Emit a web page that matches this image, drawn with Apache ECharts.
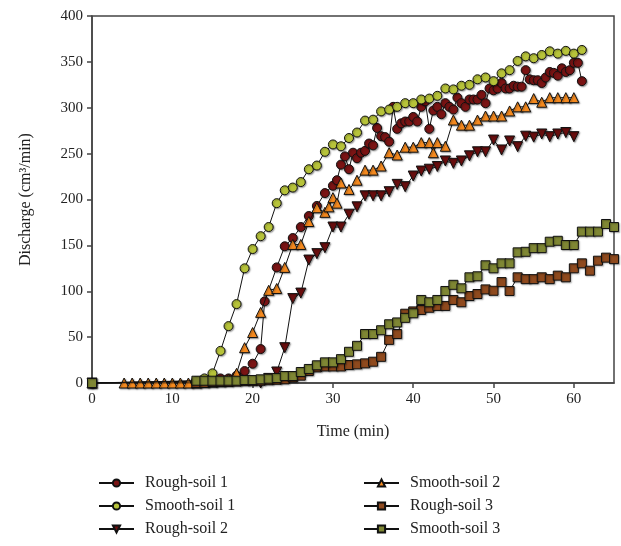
<!DOCTYPE html>
<html>
<head>
<meta charset="utf-8">
<script src="https://cdn.jsdelivr.net/npm/echarts@6/dist/echarts.min.js"></script>
<style>html,body{margin:0;padding:0;background:#fff;}#c{width:621px;height:546px;}</style>
</head>
<body>
<div id="c"></div>
<script>
// ---- data ----
const xTicks = [0, 10, 20, 30, 40, 50, 60];
const yTicks = [0, 50, 100, 150, 200, 250, 300, 350, 400];
const seriesNames = ['Rough-soil 1', 'Smooth-soil 1', 'Rough-soil 2', 'Smooth-soil 2', 'Rough-soil 3', 'Smooth-soil 3'];

const rough1T = [0,13,14,15,16,17,18,19,20,21,21.5,23,24,25,26,27,28,29,30,
  30.5,31,31.5,32,32.5,33,33.5,34,34.5,35,35.5,36,36.5,37,37.5,38,38.5,39,39.5,40,
  40.5,41,41.5,42,42.5,43,43.5,44,44.5,45,45.5,46,46.5,47,47.5,48,48.5,49,49.5,50,
  50.5,51,51.5,52,52.5,53,53.5,54,54.5,55,55.5,56,56.5,57,57.5,58,58.5,59,59.5,60,60.5,61];
const rough1V = [0,2,3,4,5,5,8,13,21,37,89,126,149,158,170,182,193,207,215,
  221,238,247,233,251,245,251,253,261,259,278,269,268,263,301,277,283,285,285,290,
  285,301,307,277,297,301,293,305,301,298,311,305,301,309,309,309,314,305,321,319,
  321,327,321,321,324,323,323,341,331,330,330,327,333,339,338,335,343,339,341,349,349,329];

const smooth1T = [0,13,14,15,16,17,18,19,20,21,22,23,24,25,26,27,28,29,30,31,32,33,34,35,36,37,
  38,39,40,41,42,43,44,45,46,47,48,49,50,51,52,53,54,55,56,57,58,59,60,61];
const smooth1V = [0,2,5,10.5,35,62,86,125,146,160,170,196,210,213,219,233,237,252,260,258,267,273,286,287,296,298,
  301,305,305,309,310,313,321,320,324,325,331,333,329,337.5,341,351,356,354,357.5,361.5,359,362,359,363];

const rough2T = [0,21,22,23,24,25,26,27,28,29,30,31,32,33,34,35,36,37,38,39,40,
  41,42,43,44,45,46,47,48,49,50,51,52,53,54,55,56,57,58,59,60];
const rough2V = [0,0,5,12,38.5,92,98,134,141,147.5,170,170,184,192,204,204,204,208.5,216.5,214,225.6,
  231,233,236,242,239.4,242,247.6,252,252,264.8,254,263.8,257.6,269,268,271.4,268.5,271.4,273,268.5];

const smooth2T = [0,4,5,6,7,8,9,10,11,12,13,14,15,16,17,18,19,20,21,22,23,24,25,26,27,28,29,29.5,30,30.5,
  31,32,33,34,35,36,37,38,39,40,41,42,42.5,43,44,45,46,47,48,49,50,51,52,53,54,55,56,57,58,59,60];
const smooth2V = [0,0,0,0,0,0,0,0,0,0,0,1,1,2,4,10.5,38.5,55,77,101,103,126,151,151,176,191,186,192,202,196,
  218,211,221,232,232,236.5,251,248.5,257,257,262,262,251,262,258,286.6,281,281,286.6,291,291,291,296.5,301,301,310,306,311,311,311,311];

const rough3T = [0,13,14,15,16,17,18,19,20,21,22,23,24,25,26,27,28,29,30,31,32,33,34,35,36,37,38,39,
  40,41,42,43,44,45,46,47,48,49,50,51,52,53,54,55,56,57,58,59,60,61,62,63,64,65];
const rough3V = [0,0,0,1,1,1,1.5,2,2,2.5,3,3.5,4,6,8,13,17,18,18,18,19.6,20.3,21.4,23.2,28.5,47,53.4,75.5,
  78,79.6,82,84,84,90.5,88,94.8,97,102,100.5,110,100.3,115.2,113.2,113.2,115.2,113.2,117,115.2,125,130.4,122.4,133.3,136.6,135];

const smooth3T = [0,13,14,15,16,17,18,19,20,21,22,23,24,25,26,27,28,29,30,31,32,33,34,35,36,37,38,39,
  40,41,42,43,44,45,46,47,48,49,50,51,52,53,54,55,56,57,58,59,60,61,62,63,64,65];
const smooth3V = [0,2.5,2.5,2.5,2.5,2.5,2.5,3.3,3.3,4,4.7,5.4,7.6,7.6,12,15.3,19.3,22.5,22.5,26,34,40.5,53.4,53.4,57.5,64,66,71,
  76,90.5,88,90.5,100.3,107,103.2,115.2,116.3,128.3,125,130.4,130.4,142.4,143,147,147,154,155,150.4,150.4,165,165,165,173.3,170];

// ---- build ----
function pairs(t, v) { return t.map((x, i) => [x, v[i]]); }
const FONT = 'Liberation Serif';
const styles = [
  { color: '#7a1414', symbol: 'circle', size: 9, rotate: 0 },
  { color: '#b7c33a', symbol: 'circle', size: 9, rotate: 0 },
  { color: '#6a0e0e', symbol: 'triangle', size: 10, rotate: 180 },
  { color: '#f58a1f', symbol: 'triangle', size: 10, rotate: 0 },
  { color: '#8f4a1e', symbol: 'rect', size: 9, rotate: 0 },
  { color: '#7f8734', symbol: 'rect', size: 9, rotate: 0 }
];
const dataSets = [pairs(rough1T, rough1V), pairs(smooth1T, smooth1V), pairs(rough2T, rough2V),
  pairs(smooth2T, smooth2V), pairs(rough3T, rough3V), pairs(smooth3T, smooth3V)];

const series = seriesNames.map((n, i) => ({
  name: n,
  type: 'line',
  data: dataSets[i],
  symbol: styles[i].symbol,
  symbolSize: styles[i].size,
  symbolRotate: styles[i].rotate,
  showAllSymbol: true,
  animation: false,
  lineStyle: { color: '#111', width: 1 },
  itemStyle: { color: styles[i].color, borderColor: '#111', borderWidth: 1,
    shadowColor: 'rgba(0,0,0,0.35)', shadowBlur: 1.5, shadowOffsetX: 1, shadowOffsetY: 1 },
  emphasis: { disabled: true },
  z: 2 + i
}));

const chart = echarts.init(document.getElementById('c'), null, { renderer: 'canvas' });
chart.setOption({
  backgroundColor: '#fff',
  animation: false,
  grid: { left: 92, top: 16, width: 522, height: 367, show: true, borderColor: '#444', borderWidth: 1.5, backgroundColor: 'transparent' },
  xAxis: {
    type: 'value', min: 0, max: 65, interval: 10,
    name: 'Time (min)', nameLocation: 'middle', nameGap: 41,
    nameTextStyle: { fontFamily: FONT, fontSize: 16, color: '#222' },
    axisLine: { show: true, lineStyle: { color: '#444', width: 1.5 } },
    axisTick: { show: true, inside: false, length: 5, lineStyle: { color: '#444', width: 1.5 }, customValues: xTicks },
    axisLabel: { fontFamily: FONT, fontSize: 15, color: '#222', margin: 9, customValues: xTicks },
    splitLine: { show: false }
  },
  yAxis: {
    type: 'value', min: 0, max: 400, interval: 50,
    name: 'Discharge (cm³/min)', nameLocation: 'middle', nameGap: 58,
    nameTextStyle: { fontFamily: FONT, fontSize: 16, color: '#222' },
    axisLine: { show: true, lineStyle: { color: '#444', width: 1.5 } },
    axisTick: { show: true, inside: false, length: 5, lineStyle: { color: '#444', width: 1.5 } },
    axisLabel: { fontFamily: FONT, fontSize: 15, color: '#222', margin: 9 },
    splitLine: { show: false }
  },
  legend: [
    { data: seriesNames.slice(0, 3), orient: 'vertical', left: 93, top: 470, itemWidth: 35, itemHeight: 9, itemGap: 7,
      textStyle: { fontFamily: FONT, fontSize: 16, color: '#222', padding: [0, 0, 0, 6] }, selectedMode: false },
    { data: seriesNames.slice(3), orient: 'vertical', left: 358, top: 470, itemWidth: 35, itemHeight: 9, itemGap: 7,
      textStyle: { fontFamily: FONT, fontSize: 16, color: '#222', padding: [0, 0, 0, 6] }, selectedMode: false }
  ],
  series: series
});
</script>
</body>
</html>
